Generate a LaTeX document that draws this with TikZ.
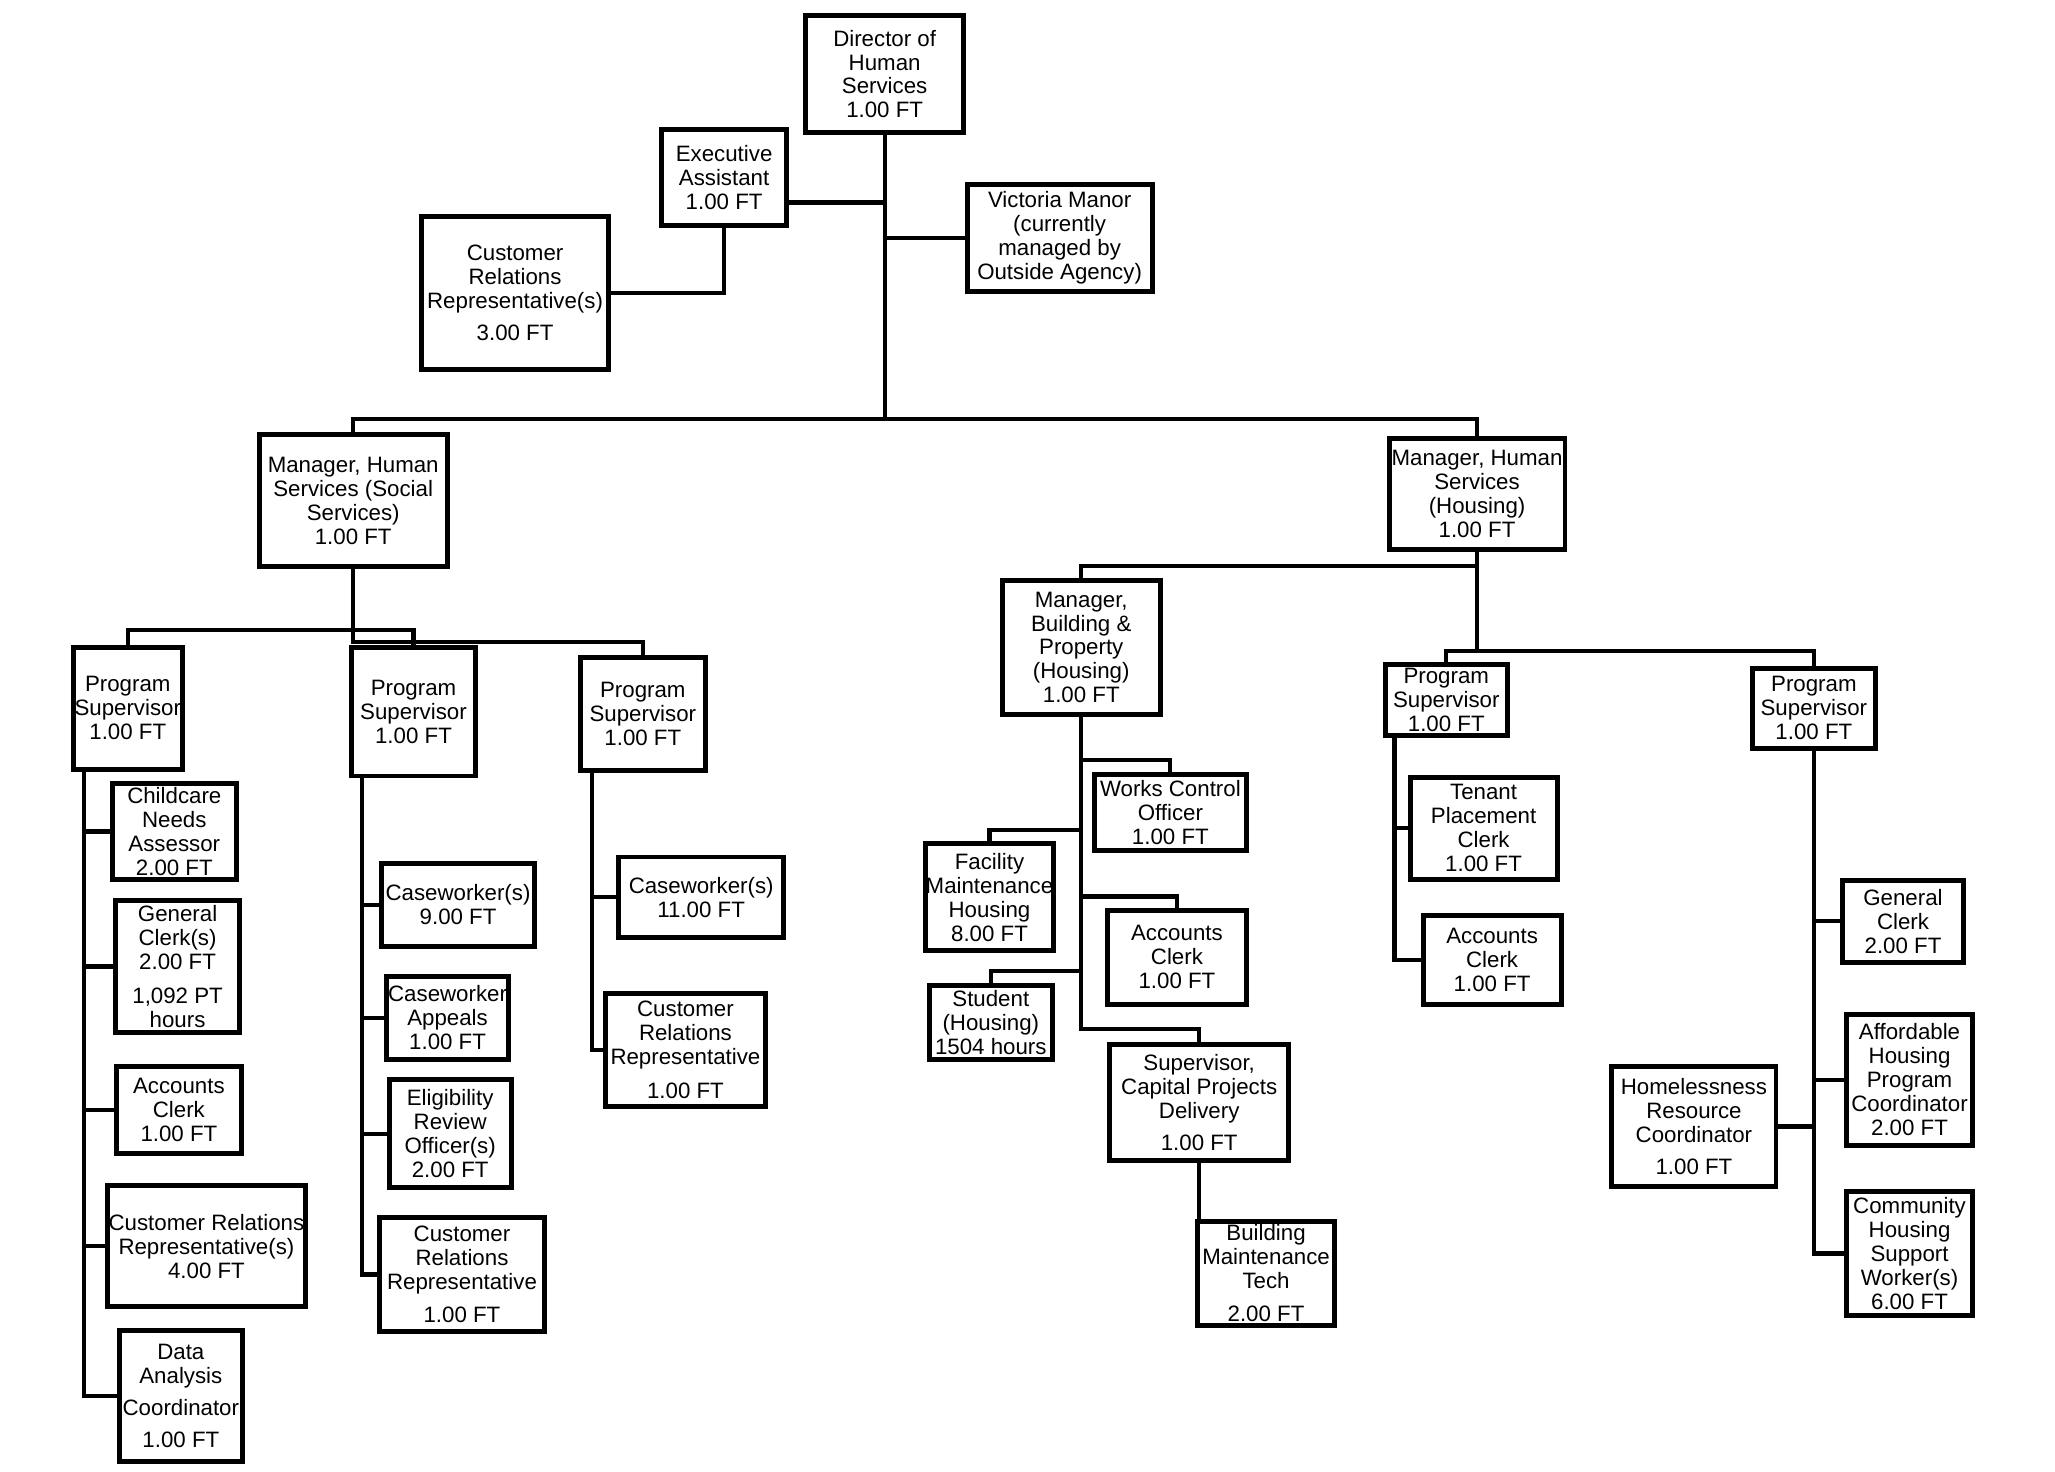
\documentclass[tikz,border=0pt]{standalone}
\usepackage{fontspec}
\setmainfont{Liberation Sans}

\begin{document}
\begin{tikzpicture}[
  x=1pt, y=-1pt,
  post/.style={draw, line width=3.8pt, inner sep=0pt, align=center,
    font=\fontsize{17}{18.3}\selectfont},
  wh/.style 2 args={minimum width=#1pt-3.8pt, minimum height=#2pt-3.8pt},
  link/.style={line width=3.2pt}
]
\useasboundingbox (0,0) rectangle (1568,1123);

% top level
\node[post, wh={124}{93}]  (dir)   at (675,56.5)   {Director of\\Human\\Services\\1.00 FT};
\node[post, wh={99}{77}]   (ea)    at (552.5,135.5) {Executive\\Assistant\\1.00 FT};
\node[post, wh={145}{85}]  (vm)    at (808.5,181.5) {Victoria Manor\\(currently\\managed by\\Outside Agency)};
\node[post, wh={146}{121}] (crtop) at (393,223.5)  {Customer\\Relations\\Representative(s)\\[6pt]3.00 FT};

% managers
\node[post, wh={147}{104}] (msoc) at (269.5,382) {Manager, Human\\Services (Social\\Services)\\1.00 FT};
\node[post, wh={138}{88}]  (mhou) at (1127,377)  {Manager, Human\\Services\\(Housing)\\1.00 FT};

% social services
\node[post, wh={87}{97}]  (ps1) at (97.5,540.5) {Program\\Supervisor\\1.00 FT};
\node[post, wh={99}{102}] (ps2) at (315.5,543)  {Program\\Supervisor\\1.00 FT};
\node[post, wh={99}{90}]  (ps3) at (490.5,545)  {Program\\Supervisor\\1.00 FT};

\node[post, wh={98}{77}]  (cna)  at (133,634.5)   {Childcare\\Needs\\Assessor\\2.00 FT};
\node[post, wh={99}{105}] (gc1)  at (135.5,737.5) {General\\Clerk(s)\\2.00 FT\\[7pt]1,092 PT\\hours};
\node[post, wh={99}{70}]  (ac1)  at (136.5,847)   {Accounts\\Clerk\\1.00 FT};
\node[post, wh={155}{96}] (crr1) at (157.5,951)   {Customer Relations\\Representative(s)\\4.00 FT};
\node[post, wh={98}{104}] (dac)  at (138,1065)    {Data\\Analysis\\[6pt]Coordinator\\[6pt]1.00 FT};

\node[post, wh={121}{67}] (cw9)  at (349.5,690.5) {Caseworker(s)\\9.00 FT};
\node[post, wh={97}{67}]  (cwa)  at (341.5,776.5) {Caseworker\\Appeals\\1.00 FT};
\node[post, wh={97}{86}]  (ero)  at (343.5,865)   {Eligibility\\Review\\Officer(s)\\2.00 FT};
\node[post, wh={129}{91}] (crr2) at (352.5,972.5) {Customer\\Relations\\Representative\\[7pt]1.00 FT};

\node[post, wh={130}{65}] (cw11) at (535,684.5) {Caseworker(s)\\11.00 FT};
\node[post, wh={126}{90}] (crr3) at (523,801)   {Customer\\Relations\\Representative\\[7pt]1.00 FT};

% housing
\node[post, wh={124}{106}] (mbp) at (825,494) {Manager,\\Building \&\\Property\\(Housing)\\1.00 FT};
\node[post, wh={120}{62}]  (wco) at (893,620)   {Works Control\\Officer\\1.00 FT};
\node[post, wh={100}{85}]  (fmh) at (755,684.5) {Facility\\Maintenance\\Housing\\8.00 FT};
\node[post, wh={110}{75}]  (ac2) at (898,730.5) {Accounts\\Clerk\\1.00 FT};
\node[post, wh={98}{60}]   (stu) at (756,780)   {Student\\(Housing)\\1504 hours};
\node[post, wh={140}{92}]  (scp) at (915,841)   {Supervisor,\\Capital Projects\\Delivery\\[6pt]1.00 FT};
\node[post, wh={108}{83}]  (bmt) at (966,971.5) {Building\\Maintenance\\Tech\\[7pt]2.00 FT};

\node[post, wh={97}{58}]  (ps4) at (1103.5,534)  {Program\\Supervisor\\1.00 FT};
\node[post, wh={116}{82}] (tpc) at (1132,632)    {Tenant\\Placement\\Clerk\\1.00 FT};
\node[post, wh={109}{71}] (ac3) at (1138.5,732.5) {Accounts\\Clerk\\1.00 FT};

\node[post, wh={98}{65}]  (ps5) at (1384,540.5)  {Program\\Supervisor\\1.00 FT};
\node[post, wh={96}{66}]  (gc2) at (1452,703)    {General\\Clerk\\2.00 FT};
\node[post, wh={100}{104}] (ahp) at (1457,824)   {Affordable\\Housing\\Program\\Coordinator\\2.00 FT};
\node[post, wh={100}{99}] (chs) at (1457,956.5)  {Community\\Housing\\Support\\Worker(s)\\6.00 FT};
\node[post, wh={129}{95}] (hrc) at (1292.5,859.5) {Homelessness\\Resource\\Coordinator\\[6pt]1.00 FT};

% connectors, top
\draw[link] (msoc.north) -- ++(0,-10) coordinate (hub) -| (mhou.north);
\draw[link] (dir.south) -- (dir.south |- hub);
\draw[link] ([yshift=-19pt]ea.east) -- ([yshift=-19pt]ea.east -| dir.south);
\draw[link] (vm.west) -- (vm.west -| dir.south);
\draw[link] (ea.south) |- (crtop.east);

% connectors, social services
\draw[link] (msoc.south) -- ++(0,56) -| (ps3.north);
\draw[link] (ps1.north) -- ++(0,-11) -| (ps2.north);

\coordinate (sp1) at ([xshift=10pt]ps1.south west);
\draw[link] (sp1) |- (dac.west);
\foreach \c in {cna,gc1,ac1,crr1}
  \draw[link] (\c.west) -- (\c.west -| sp1);

\coordinate (sp2) at ([xshift=10pt]ps2.south west);
\draw[link] (sp2) |- (crr2.west);
\foreach \c in {cw9,cwa,ero}
  \draw[link] (\c.west) -- (\c.west -| sp2);

\coordinate (sp3) at ([xshift=11pt]ps3.south west);
\draw[link] (sp3) |- (crr3.west);
\draw[link] (cw11.west) -- (cw11.west -| sp3);

% connectors, housing
\draw[link] (mhou.south) -- ++(0,76) coordinate (hub2) -| (ps5.north);
\draw[link] (ps4.north) |- (hub2);
\draw[link] (mbp.north) |- ([yshift=-11pt]mhou.south);

\draw[link] (mbp.south) -- ++(0,238) -| (scp.north);
\foreach \c in {wco,fmh,ac2,stu}
  \draw[link] (\c.north) -- ++(0,-9) -| (mbp.south);
\draw[link] (scp.south) -- (scp.south |- bmt.north);

\coordinate (sp4) at ([xshift=9pt]ps4.south west);
\draw[link] (sp4) |- (ac3.west);
\draw[link] (tpc.west) -- (tpc.west -| sp4);

\draw[link] (ps5.south) |- (chs.west);
\foreach \c in {gc2,ahp}
  \draw[link] (\c.west) -- (\c.west -| ps5.south);
\draw[link] (hrc.east) -- (hrc.east -| ps5.south);
\end{tikzpicture}
\end{document}
